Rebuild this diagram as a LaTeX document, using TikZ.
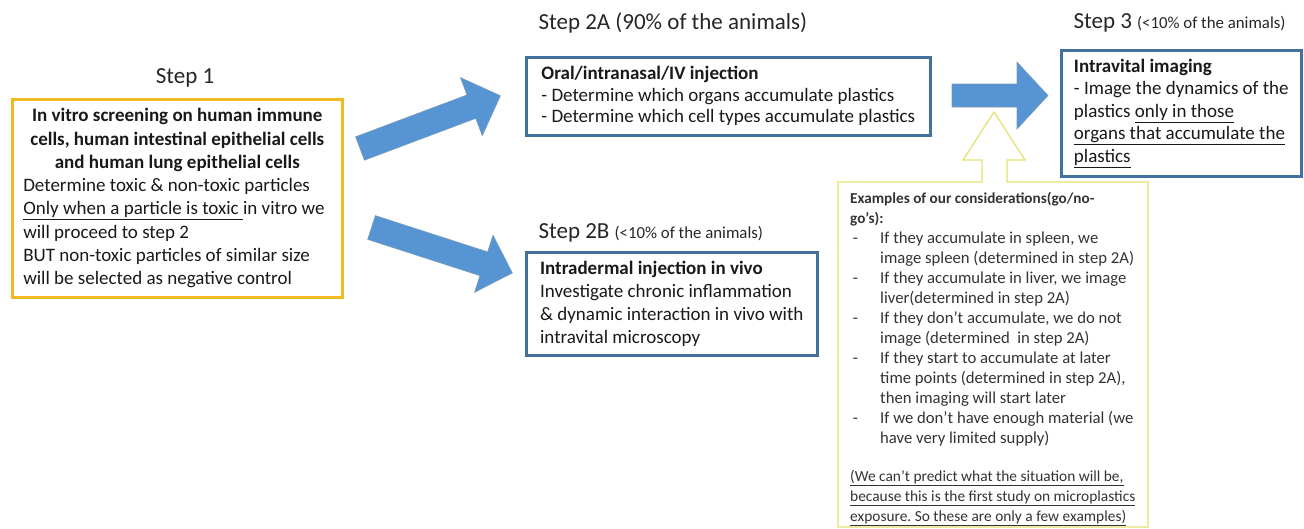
\documentclass[tikz,border=0pt]{standalone}
\usepackage{fontspec}
\setmainfont{Carlito}
\usetikzlibrary{positioning}
\frenchspacing

\definecolor{frameblue}{RGB}{65,113,156}
\definecolor{arrowblue}{RGB}{86,148,212}
\definecolor{framegold}{RGB}{242,185,35}
\definecolor{calloutyellow}{RGB}{230,226,110}

\newcommand{\animalshare}[1]{{\fontsize{16.8}{18}\selectfont #1}}
\newcommand{\goitem}{\makebox[30pt][l]{\,-}}
\newcommand{\goindent}{\hspace*{30pt}}

\begin{document}
\begin{tikzpicture}[
    x=1pt, y=-1pt,
    stepbox/.style={draw=frameblue, line width=2.6pt, anchor=north west, align=left,
        inner sep=0pt, text=black!90, font=\fontsize{19}{23.3}\selectfont},
    steptitle/.style={anchor=base west, text=black!85, font=\fontsize{23}{26}\selectfont},
    fatarrow/.style={fill=arrowblue, draw=frameblue!70, line width=0.6pt},
    callout/.style={draw=calloutyellow, line width=1.3pt, fill=white},
    notetext/.style={anchor=north west, align=left, inner sep=0pt, text=black!80,
        font=\fontsize{16.7}{20}\selectfont}
]
    \useasboundingbox (0,0) rectangle (1304,528);

    % Step 1
    \node[steptitle, anchor=base] (steponetitle) at (185,83) {Step 1};
    \node[stepbox, draw=framegold, minimum width=330pt, minimum height=198pt] (screening) at (11,98) {
        \makebox[308pt]{\bfseries In vitro screening on human immune}\\
        \makebox[308pt]{\bfseries cells, human intestinal epithelial cells}\\
        \makebox[308pt]{\bfseries and human lung epithelial cells}\\
        Determine toxic \& non-toxic particles\\
        \underline{Only when a particle is toxic }in vitro we\\
        will proceed to step 2\\
        BUT non-toxic particles of similar size\\
        will be selected as negative control};

    % Arrows to step 2
    \begin{scope}[shift={(360,148.5)}, rotate=20.6]
        \draw[fatarrow] (0,-12.5) -- (119,-12.5) -- (119,-31) -- (150,0)
            -- (119,31) -- (119,12.5) -- (0,12.5) -- cycle;
    \end{scope}
    \begin{scope}[shift={(371.5,227.5)}, rotate=-17.9]
        \draw[fatarrow] (0,-12.5) -- (118,-12.5) -- (118,-30) -- (148,0)
            -- (118,30) -- (118,12.5) -- (0,12.5) -- cycle;
    \end{scope}

    % Step 2A
    \node[steptitle] (steptwoatitle) at (535,29) {Step 2A (90\% of the animals)};
    \node[stepbox, minimum width=404pt, minimum height=78pt, font=\fontsize{19}{21.5}\selectfont] (oral) at (525,56) {
        \textbf{Oral/intranasal/IV injection}\\
        - Determine which organs accumulate plastics\\
        - Determine which cell types accumulate plastics};

    % Step 2B
    \node[steptitle] (steptwobtitle) at (535,238) {Step 2B \animalshare{(<10\% of the animals)}};
    \node[stepbox, minimum width=291pt, minimum height=103pt] (intradermal) at (525,251) {
        \textbf{Intradermal injection in vivo}\\
        Investigate chronic inflammation\\
        \& dynamic interaction in vivo with\\
        intravital microscopy};

    % Arrow to step 3
    \draw[fatarrow] (952,84) -- (1017,84) -- (1017,62) -- (1048,95.5)
        -- (1017,129) -- (1017,107) -- (952,107) -- cycle;

    % Step 3
    \node[steptitle] (stepthreetitle) at (1070,28) {Step 3 \animalshare{(<10\% of the animals)}};
    \node[stepbox, minimum width=240pt, minimum height=126pt, font=\fontsize{19}{22.5}\selectfont] (intravital) at (1060,49) {
        \textbf{Intravital imaging}\\
        - Image the dynamics of the\\
        plastics \underline{only in those}\\
        \underline{organs that accumulate the}\\
        \underline{plastics}};

    % Considerations (go/no-go)
    \draw[callout] (838,182) -- (982,182) -- (982,160) -- (963,160) -- (994,112)
        -- (1025,160) -- (1007,160) -- (1007,182) -- (1148,182) -- (1148,527)
        -- (838,527) -- cycle;
    \node[notetext] (considerations) at (850,192) {
        {\fontsize{15.2}{20}\selectfont\bfseries Examples of our considerations(go/no-}\\
        {\fontsize{15.2}{20}\selectfont\bfseries go's):}\\
        \goitem If they accumulate in spleen, we\\
        \goindent image spleen (determined in step 2A)\\
        \goitem If they accumulate in liver, we image\\
        \goindent liver(determined in step 2A)\\
        \goitem If they don't accumulate, we do not\\
        \goindent image (determined\ \ in step 2A)\\
        \goitem If they start to accumulate at later\\
        \goindent time points (determined in step 2A),\\
        \goindent then imaging will start later\\
        \goitem If we don't have enough material (we\\
        \goindent have very limited supply)\\[18pt]
        {\fontsize{15.4}{20}\selectfont\underline{(We can't predict what the situation will be,}}\\
        {\fontsize{15.4}{20}\selectfont\underline{because this is the first study on microplastics}}\\
        {\fontsize{15.4}{20}\selectfont\underline{exposure. So these are only a few examples)}}};
\end{tikzpicture}
\end{document}
